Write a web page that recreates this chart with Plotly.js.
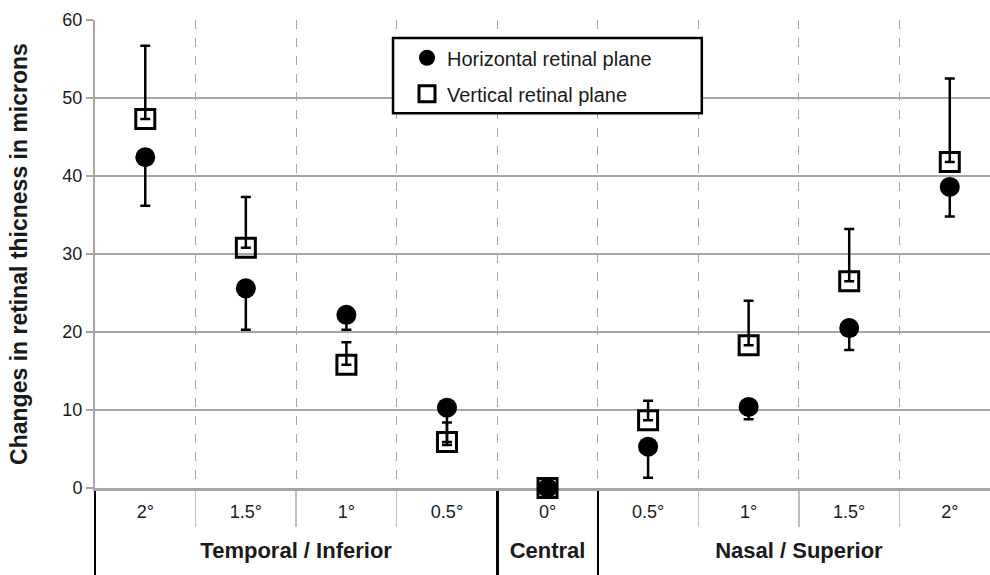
<!DOCTYPE html>
<html>
<head>
<meta charset="utf-8">
<script src="https://cdn.plot.ly/plotly-3.0.1.min.js"></script>
<style>
html,body{margin:0;padding:0;background:#fff;overflow:hidden;}
#chart{width:990px;height:575px;}
</style>
</head>
<body>
<div id="chart"></div>
<script>
// Category levels
const regions = ["Temporal / Inferior","Temporal / Inferior","Temporal / Inferior","Temporal / Inferior",
                 "Central",
                 "Nasal / Superior","Nasal / Superior","Nasal / Superior","Nasal / Superior"];
const eccentricity = ["2°","1.5°","1°","0.5°","0°","0.5°","1°","1.5°","2°"];

// Horizontal retinal plane (filled circles), error bars downward
const horizontalMean = [42.4, 25.6, 22.2, 10.3, 0, 5.3, 10.4, 20.5, 38.6];
const horizontalErrMinus = [6.2, 5.3, 1.9, 4.8, 0, 4.0, 1.6, 2.8, 3.8];

// Vertical retinal plane (open squares), error bars upward
const verticalMean = [47.3, 30.8, 15.8, 5.9, 0, 8.7, 18.3, 26.5, 41.8];
const verticalErrPlus = [9.4, 6.5, 2.9, 2.5, 0, 2.5, 5.7, 6.7, 10.7];

const seriesNames = ["Horizontal retinal plane", "Vertical retinal plane"];
const yTickVals = [0, 10, 20, 30, 40, 50, 60];

const FONT = "Liberation Sans, Arial, sans-serif";
// group labels: bold, larger; an extra blank line lets the dividers run to the bottom edge
const level1 = regions.map(r => '<span style="font-size:22px"><b>' + r + '</b></span><br>\u00a0');
// inner labels: keep the nasal ones distinct so they are not re-sorted; a blank
// second line pushes the group labels further down
const level2 = eccentricity.map((e, i) =>
  (regions[i] === "Nasal / Superior" ? '<span>' + e + '</span>' : e) +
  '<br><span style="font-size:21px">\u00a0</span>');
const xCats = [level1, level2];

const traceVertical = {
  type: "scatter", mode: "markers", name: seriesNames[1],
  legendgroup: "v", legendrank: 2, cliponaxis: false,
  x: xCats, y: verticalMean,
  marker: {symbol: "square-open", size: 19, color: "#000", line: {width: 3, color: "#000"}},
  error_y: {type: "data", symmetric: false, array: verticalErrPlus,
            arrayminus: verticalMean.map(() => 0),
            color: "#000", thickness: 2.5, width: 5}
};
const traceHorizontal = {
  type: "scatter", mode: "markers", name: seriesNames[0],
  legendgroup: "h", legendrank: 1, cliponaxis: false,
  x: xCats, y: horizontalMean,
  marker: {symbol: "circle", size: 20, color: "#000"},
  error_y: {type: "data", symmetric: false, array: horizontalMean.map(() => 0),
            arrayminus: horizontalErrMinus,
            color: "#000", thickness: 2.5, width: 5}
};

const layout = {
  width: 990, height: 575,
  margin: {l: 95, r: 0, t: 20, b: 87},
  paper_bgcolor: "#fff", plot_bgcolor: "#fff",
  font: {family: FONT, size: 18, color: "#1a1a1a"},
  showlegend: true,
  legend: {
    x: 0.3486, y: 0.961, xanchor: "left", yanchor: "top",
    bgcolor: "rgba(0,0,0,0)", borderwidth: 0,
    traceorder: "grouped", tracegroupgap: 7,
    font: {family: FONT, size: 20, color: "#1a1a1a"},
    itemwidth: 30
  },
  shapes: [{
    type: "rect", xref: "paper", yref: "paper",
    x0: 0.333, x1: 0.678, y0: 0.801, y1: 0.9615,
    line: {color: "#000", width: 2.5}, fillcolor: "#fff", layer: "above"
  }],
  xaxis: {
    type: "multicategory",
    range: [-0.5, 8.4],
    layer: "below traces",
    tickson: "boundaries",
    ticks: "outside", ticklen: 36, tickwidth: 1.5, tickcolor: "#bfbfbf",
    ticklabelstandoff: 6,
    showgrid: true, gridcolor: "#a6a6a6", gridwidth: 1, griddash: "dash",
    showline: true, linecolor: "#a6a6a6", linewidth: 2.5,
    showdividers: true, dividercolor: "#000", dividerwidth: 2.5,
    tickfont: {family: FONT, size: 18, color: "#1a1a1a"},
    zeroline: false, fixedrange: true
  },
  yaxis: {
    range: [0, 60], tickvals: yTickVals,
    layer: "below traces",
    ticks: "outside", ticklen: 7, tickwidth: 1.5, tickcolor: "#a6a6a6",
    showline: true, linecolor: "#a6a6a6", linewidth: 2,
    showgrid: true, gridcolor: "#a6a6a6", gridwidth: 1.5,
    zeroline: false,
    tickfont: {family: FONT, size: 18, color: "#1a1a1a"},
    title: {text: "<b>Changes in retinal thicness in microns</b>",
            font: {family: FONT, size: 23, color: "#1a1a1a"}, standoff: 28},
    fixedrange: true
  }
};

Plotly.newPlot("chart", [traceVertical, traceHorizontal], layout, {displayModeBar: false, staticPlot: true});
</script>
</body>
</html>
